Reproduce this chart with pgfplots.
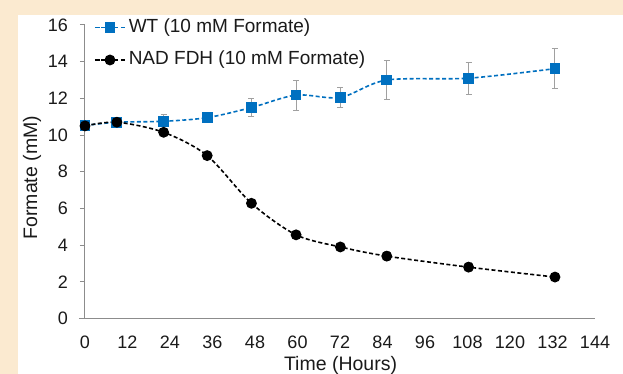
\documentclass[border=0pt]{standalone}
\usepackage{fontspec}
\setmainfont{Liberation Sans}
\usepackage{pgfplots}
\usepackage{pgfplotstable}
\pgfplotsset{compat=1.18}
\definecolor{cream}{HTML}{FBEAD0}
\definecolor{wtblue}{HTML}{0070C0}
\definecolor{axgray}{HTML}{8C8C8C}
\definecolor{errgray}{HTML}{A0A0A0}
\definecolor{txt}{HTML}{1A1A1A}

\pgfplotstableread{
t y e
0 10.52 0.10
9 10.70 0.10
22.2 10.75 0.38
34.5 10.95 0.15
47 11.50 0.48
59.6 12.18 0.82
72.1 12.05 0.55
85.2 13.00 1.05
108.3 13.10 0.87
132.7 13.62 1.10
}\wt

\pgfplotstableread{
t y e
0 10.50 0.10
9 10.70 0.10
22.2 10.15 0.20
34.5 8.88 0.15
47 6.28 0.15
59.6 4.56 0.15
72.1 3.90 0.15
85.2 3.40 0.25
108.3 2.80 0.25
132.7 2.26 0.10
}\nad

\begin{document}
\begin{tikzpicture}[x=1pt,y=1pt]
\useasboundingbox (-85,-55.5) rectangle (538,318.5);
\clip (-85,-55.5) rectangle (538,318.5);
\fill[cream] (-85,-55.5) rectangle (538,318.5);
\fill[white] (-67,-55.5) rectangle (538,303.5);
\begin{axis}[
  scale only axis,
  width=510pt, height=293.5pt,
  xmin=0, xmax=144, ymin=0, ymax=16,
  xtick={0,12,...,144},
  ytick={0,2,...,16},
  axis lines*=left,
  axis line style={axgray, line width=1pt},
  x axis line style={shorten <=-6pt},
  tick align=outside,
  major tick length=5pt,
  y tick style={axgray, line width=1pt},
  x tick style={draw=none},
  /pgf/number format/assume math mode=true,
  ticklabel style={font=\fontsize{18}{21}\selectfont, text=txt},
  xticklabel style={anchor=base, inner sep=0pt, yshift=-24.5pt},
  yticklabel style={anchor=east, inner sep=0pt, xshift=-12pt},
  xlabel={Time (Hours)},
  ylabel={Formate (mM)},
  label style={font=\fontsize{19.5}{23}\selectfont, text=txt},
  xlabel style={at={(axis description cs:0.501,-0.176)}, anchor=base, inner sep=0pt},
  ylabel style={at={(axis description cs:-0.1037,0.48)}, anchor=center, inner sep=0pt},
  legend style={at={(0.0176,1.022)}, anchor=north west, draw=none, fill=none,
    inner sep=0pt, row sep=15pt, column sep=3pt,
    font=\fontsize{19}{22}\selectfont, text=txt,
    nodes={inner sep=0pt, text height=13.5pt, text depth=4pt}},
  legend cell align=left,
  legend image code/.code={
    \draw[mark repeat=2,mark phase=2] plot coordinates {(0pt,0pt) (15pt,0pt) (30pt,0pt)};
  },
  error bars/y dir=both, error bars/y explicit,
  error bars/error bar style={errgray, line width=1pt, solid},
  error bars/error mark options={rotate=90, mark size=3pt, errgray, line width=1pt},
]
\addplot[wtblue, line width=1.6pt, dash pattern=on 4pt off 2.5pt, smooth, tension=0.5,
  mark=square*, mark size=4.6pt, mark options={solid, fill=wtblue, draw=wtblue}]
  table[x=t, y=y, y error=e] {\wt};
\addlegendentry{WT (10 mM Formate)}
\addplot[black, line width=1.6pt, dash pattern=on 4pt off 2.5pt, smooth, tension=0.5,
  mark=*, mark size=4.6pt, mark options={solid, fill=black}]
  table[x=t, y=y, y error=e] {\nad};
\addlegendentry{NAD FDH (10 mM Formate)}
\end{axis}
\end{tikzpicture}
\end{document}
